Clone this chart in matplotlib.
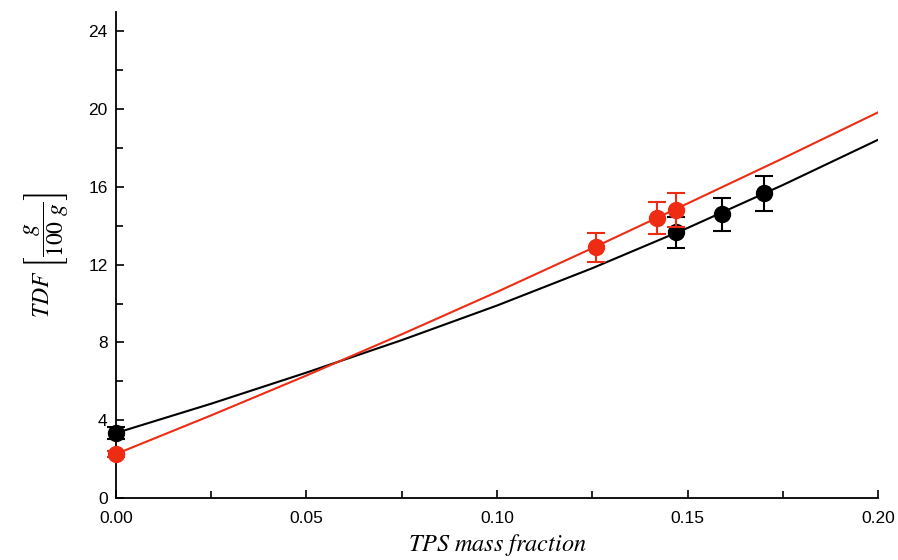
import matplotlib
matplotlib.use("Agg")
import matplotlib.pyplot as plt
from matplotlib.ticker import MultipleLocator

plt.rcParams['font.family'] = ['Liberation Sans', 'DejaVu Sans']
plt.rcParams['mathtext.fontset'] = 'stix'

# Measured data (black series)
black_x = [0.0, 0.147, 0.159, 0.170]
black_y = [3.35, 13.67, 14.6, 15.67]
black_err = [0.3, 0.8, 0.85, 0.9]

# Measured data (red series)
red_x = [0.0, 0.126, 0.142, 0.147]
red_y = [2.26, 12.9, 14.39, 14.8]
red_err = [0.15, 0.75, 0.83, 0.87]

# Fitted curves
curve_x = [0.0, 0.025, 0.05, 0.075, 0.1, 0.125, 0.15, 0.175, 0.2]
black_fit = [3.34, 4.85, 6.45, 8.12, 9.90, 11.82, 13.89, 16.10, 18.43]
red_fit = [2.26, 4.25, 6.30, 8.42, 10.60, 12.85, 15.15, 17.47, 19.84]

RED = '#ee2c14'

fig = plt.figure(figsize=(8.98, 5.6), dpi=100)
ax = fig.add_axes([0.129, 0.1107, 0.849, 0.868])

ax.plot(curve_x, black_fit, color='black', lw=1.5, zorder=2)
ax.plot(curve_x, red_fit, color=RED, lw=1.5, zorder=2)

ax.errorbar(black_x, black_y, yerr=black_err, fmt='o', color='black',
            ms=11.5, capsize=6.5, elinewidth=1.5, capthick=1.5, zorder=3, clip_on=False)
ax.errorbar(red_x, red_y, yerr=red_err, fmt='o', color=RED,
            ms=11.5, capsize=6.5, elinewidth=1.5, capthick=1.5, zorder=4, clip_on=False)

ax.set_xlim(0, 0.2)
ax.set_ylim(0, 25)
ax.xaxis.set_minor_locator(MultipleLocator(0.025))
ax.yaxis.set_minor_locator(MultipleLocator(2))
ax.set_xticks([0, 0.05, 0.1, 0.15, 0.2])
ax.set_xticklabels(['0.00', '0.05', '0.10', '0.15', '0.20'])
ax.set_yticks([0, 4, 8, 12, 16, 20, 24])
ax.set_yticklabels(['0', '4', '8', '12', '16', '20', '24'])

for s in ['top', 'right']:
    ax.spines[s].set_visible(False)
for s in ['left', 'bottom']:
    ax.spines[s].set_linewidth(1.3)

ax.tick_params(axis='both', which='major', direction='in', length=6, width=1.2,
               labelsize=12.5)
ax.tick_params(axis='y', which='major', pad=6)
ax.tick_params(axis='x', which='major', pad=9)
ax.tick_params(axis='both', which='minor', direction='in', length=5, width=1.2)

ax.set_xlabel(r'$TPS\ mass\ fraction$', fontsize=17.5, labelpad=5)
ax.set_ylabel(r'$TDF\ \left[\dfrac{g}{100\ g}\right]$', fontsize=17, labelpad=12)

fig.savefig('out.png', dpi=100)
